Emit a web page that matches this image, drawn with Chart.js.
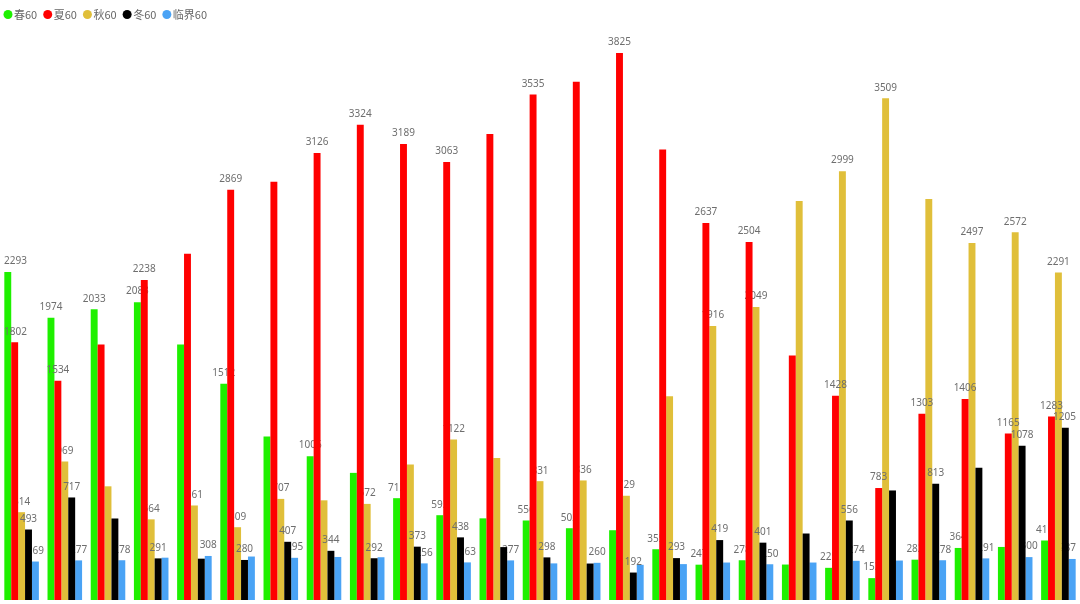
<!DOCTYPE html>
<html>
<head>
<meta charset="utf-8">
<script src="https://cdn.jsdelivr.net/npm/chart.js@4.4.1/dist/chart.umd.min.js"></script>
<style>
html,body{margin:0;padding:0;background:#fff;overflow:hidden}
#wrap{width:1080px;height:604px;position:relative}
canvas{display:block}
</style>
</head>
<body>
<div id="wrap"><canvas id="c" width="1080" height="604"></canvas></div>
<script>
// ---- data ----
const categories = ['1','2','3','4','5','6','7','8','9','10','11','12','13','14','15','16','17','18','19','20','21','22','23','24','25'];
const seriesNames = ['春60', '夏60', '秋60', '冬60', '临界60'];
const spring   = [2293, 1974, 2033, 2083, 1787, 1512, 1144, 1006, 889, 712, 593, 571, 556, 502, 488, 355, 247, 278, 248, 225, 153, 282, 364, 371, 416];
const summer   = [1802, 1534, 1787, 2238, 2421, 2869, 2924, 3126, 3324, 3189, 3063, 3259, 3535, 3625, 3825, 3150, 2637, 2504, 1710, 1428, 783, 1303, 1406, 1165, 1283];
const autumn   = [614, 969, 795, 564, 661, 509, 707, 697, 672, 947, 1122, 993, 831, 836, 729, 1424, 1916, 2049, 2790, 2999, 3509, 2804, 2497, 2572, 2291];
const winter   = [493, 717, 570, 291, 289, 280, 407, 344, 292, 373, 438, 370, 298, 255, 192, 293, 419, 401, 465, 556, 766, 813, 924, 1078, 1205];
const critical = [269, 277, 278, 296, 308, 304, 295, 301, 299, 256, 263, 277, 256, 260, 246, 251, 262, 250, 262, 274, 276, 278, 291, 300, 287];
// which value labels are shown (1 = shown)
const showSpring   = [1,1,1,1,0,1,0,1,0,1,1,0,1,1,0,1,1,1,0,1,1,1,1,0,1];
const showSummer   = [1,1,0,1,0,1,0,1,1,1,1,0,1,0,1,0,1,1,0,1,1,1,1,1,1];
const showAutumn   = [1,1,0,1,1,1,1,0,1,0,1,0,1,1,1,0,1,1,0,1,1,0,1,1,1];
const showWinter   = [1,1,0,1,0,1,1,1,1,1,1,0,1,0,1,1,1,1,0,1,0,1,0,1,1];
const showCritical = [1,1,1,0,1,0,1,0,0,1,1,1,0,1,0,0,0,1,0,1,0,1,1,1,1];

// ---- styles ----
const seriesColors = ['#1ef000', '#ff0000', '#e0bf3a', '#000000', '#4aa3f5'];
const seriesValues = [spring, summer, autumn, winter, critical];
const labelMasks = [showSpring, showSummer, showAutumn, showWinter, showCritical];

function drawValueLabels(chart, di) {
  const meta = chart.getDatasetMeta(di);
  const ctx = chart.ctx;
  ctx.save();
  ctx.font = '10px "Noto Sans", "Open Sans", sans-serif';
  ctx.fillStyle = '#6e6e6e';
  ctx.textAlign = 'left';
  ctx.textBaseline = 'middle';
  meta.data.forEach((bar, i) => {
    if (!labelMasks[di][i]) return;
    const txt = String(chart.data.datasets[di].data[i]);
    const w = ctx.measureText(txt).width;
    let x = bar.x - w / 2;
    x = Math.max(4, Math.min(chart.width - 4 - w, x));
    ctx.fillText(txt, x, bar.y - 10.5);
  });
  ctx.restore();
}

const layerPlugin = {
  id: 'layerOrder',
  beforeDatasetsDraw(chart) {
    const seq = [4, 2, 0, 1, 3];
    seq.forEach(di => {
      const meta = chart.getDatasetMeta(di);
      meta.controller.draw();
      drawValueLabels(chart, di);
    });
    return false;
  }
};

const legendPlugin = {
  id: 'dotLegend',
  afterDraw(chart) {
    const ctx = chart.ctx;
    ctx.save();
    ctx.font = '11px "Noto Sans CJK SC", "Noto Sans", sans-serif';
    ctx.textBaseline = 'middle';
    ctx.textAlign = 'left';
    let cx = 3.5;
    const cy = 14.5;
    chart.data.datasets.forEach((ds, i) => {
      ctx.fillStyle = ds.backgroundColor;
      ctx.beginPath();
      ctx.arc(cx + 4.5, cy, 4.5, 0, Math.PI * 2);
      ctx.fill();
      ctx.fillStyle = '#666666';
      ctx.fillText(ds.label, cx + 10.5, cy);
      cx += 10.5 + ctx.measureText(ds.label).width + 6;
    });
    ctx.restore();
  }
};

new Chart(document.getElementById('c'), {
  type: 'bar',
  data: {
    labels: categories,
    datasets: seriesNames.map((n, i) => ({
      label: n,
      data: seriesValues[i],
      backgroundColor: seriesColors[i],
      borderWidth: 0,
      barPercentage: 1.0,
      categoryPercentage: 0.8
    }))
  },
  options: {
    responsive: false,
    devicePixelRatio: 1,
    animation: false,
    layout: { padding: { top: 28, bottom: 4, left: 0, right: 0 } },
    scales: {
      x: { display: false, offset: true, grid: { display: false } },
      y: { display: false, min: 0, max: 4000 }
    },
    plugins: {
      legend: { display: false },
      tooltip: { enabled: false }
    }
  },
  plugins: [layerPlugin, legendPlugin]
});
</script>
</body>
</html>
